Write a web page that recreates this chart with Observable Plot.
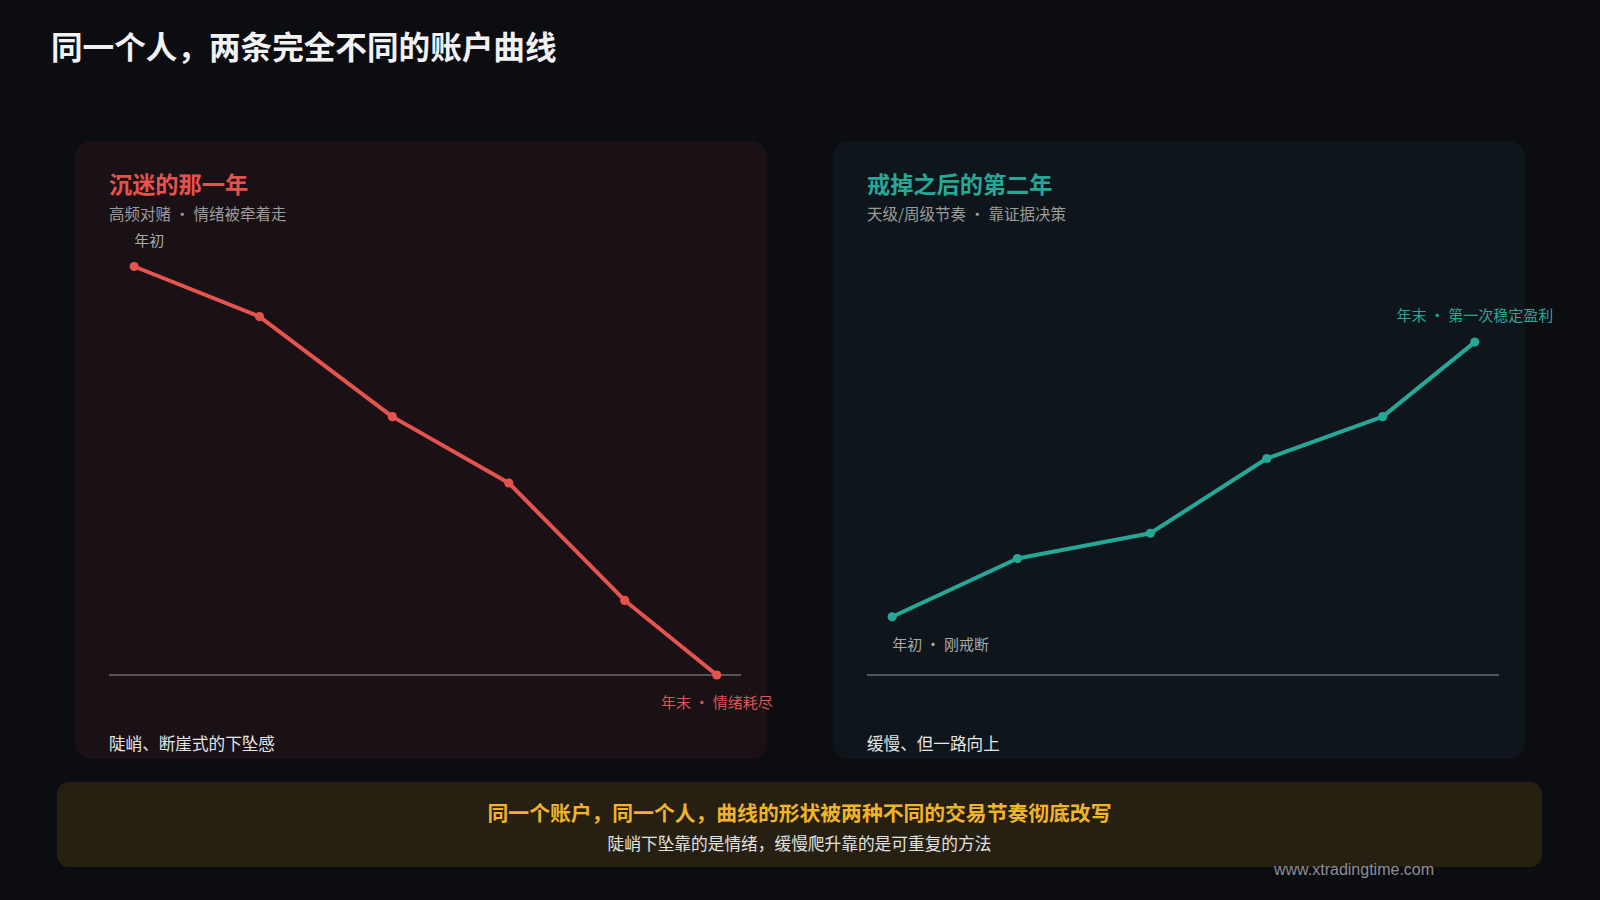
<!DOCTYPE html>
<html>
<head>
<meta charset="utf-8">
<script src="https://cdn.jsdelivr.net/npm/d3@7"></script>
<script src="https://cdn.jsdelivr.net/npm/@observablehq/plot@0.6"></script>
<style>
  html, body { margin: 0; padding: 0; background: #0c0d11; }
  body { width: 1600px; height: 900px; position: relative; overflow: hidden;
         font-family: "Noto Sans CJK SC", "Noto Sans", sans-serif; }
  .abs { position: absolute; white-space: nowrap; }
  .title { left: 51px; top: 27px; font-size: 31.6px; line-height: 36px; font-weight: 700; color: #f2f2f2; }
  .panel { position: absolute; top: 141px; width: 692px; height: 618px; border-radius: 16px; }
  .ptitle { left: 34px; top: 28px; font-size: 23.2px; line-height: 28px; font-weight: 700; }
  .psub { left: 34px; top: 62px; font-size: 15.5px; line-height: 20px; color: #9c9c9c; }
  .pcap { left: 34px; top: 592px; font-size: 16.6px; line-height: 20px; color: #e6e6e6; }
  .chart { position: absolute; left: 0; top: 89px; }
  .box { position: absolute; left: 57px; top: 782px; width: 1485px; height: 85px; border-radius: 12px; background: #262013; }
  .boxt1 { left: 0; width: 1485px; text-align: center; top: 18px; font-size: 20.8px; line-height: 24px; font-weight: 700; color: #f0b429; }
  .boxt2 { left: 0; width: 1485px; text-align: center; top: 51px; font-size: 16.7px; line-height: 20px; color: #e2e2e2; }
  .wm { left: 1274px; top: 860px; font-family: "Liberation Sans", Arial, sans-serif; font-size: 16px; line-height: 20px; color: #8c8f96; }
</style>
</head>
<body>
<script>
// ---- data ----
const yearProgress = [0, 0.215, 0.443, 0.643, 0.842, 1];          // position within the year
const year1Equity = [100, 87.75, 63.25, 47, 18.25, 0];             // 沉迷的那一年
const year2Equity = [14.25, 28.5, 34.7, 53, 63.25, 81.5];          // 戒掉之后的第二年

const panelTitles = ["沉迷的那一年", "戒掉之后的第二年"];
const panelSubtitles = ["高频对赌 · 情绪被牵着走", "天级/周级节奏 · 靠证据决策"];
const panelCaptions = ["陡峭、断崖式的下坠感", "缓慢、但一路向上"];
const startLabels = ["年初", "年初 · 刚戒断"];
const endLabels = ["年末 · 情绪耗尽", "年末 · 第一次稳定盈利"];

const FONT = '"Noto Sans CJK SC", "Noto Sans", sans-serif';
const RED = "#e5534f", TEAL = "#26a898";

const root = document.body;
function div(cls, text, parent, style) {
  const d = document.createElement("div");
  d.className = cls;
  if (text != null) d.textContent = text;
  if (style) Object.assign(d.style, style);
  (parent || root).appendChild(d);
  return d;
}

div("abs title", "同一个人，两条完全不同的账户曲线");

function makeChart(values, color, startLabel, endLabel, startOpts, endOpts) {
  const data = yearProgress.map((x, i) => ({x, y: values[i]}));
  const first = [data[0]], last = [data[data.length - 1]];
  return Plot.plot({
    width: 692,
    height: 500,
    marginLeft: 34,
    marginRight: 26,
    marginTop: 36,
    marginBottom: 55.5,
    x: {domain: [0, 1], axis: null, insetLeft: 24.7, insetRight: 24.7},
    y: {domain: [0, 100], axis: null},
    style: {background: "transparent", overflow: "visible", fontFamily: FONT},
    marks: [
      Plot.ruleY([0], {stroke: "#8a8a8a", strokeOpacity: 0.75, strokeWidth: 1.6}),
      Plot.line(data, {x: "x", y: "y", stroke: color, strokeWidth: 4, strokeLinejoin: "round", strokeLinecap: "round"}),
      Plot.dot(data, {x: "x", y: "y", r: 4.6, fill: color, stroke: "none"}),
      Plot.text(first, {x: "x", y: "y", text: () => startLabel, fontSize: 15, ...startOpts}),
      Plot.text(last, {x: "x", y: "y", text: () => endLabel, fontSize: 15, ...endOpts})
    ]
  });
}

const configs = [
  {left: 75, bg: "#1a1116", color: RED, values: year1Equity,
   start: {textAnchor: "start", dy: -25, fill: "#a9a9a9"},
   end: {textAnchor: "middle", dy: 28, fill: "#dc5450"}},
  {left: 833, bg: "#0e161b", color: TEAL, values: year2Equity,
   start: {textAnchor: "start", dy: 28, fill: "#a9a9a9"},
   end: {textAnchor: "middle", dy: -26, fill: "#2aa897"}}
];

configs.forEach((c, i) => {
  const p = div("panel", null, root, {left: c.left + "px", background: c.bg});
  div("abs ptitle", panelTitles[i], p, {color: c.color});
  div("abs psub", panelSubtitles[i], p);
  const holder = div("chart", null, p);
  holder.appendChild(makeChart(c.values, c.color, startLabels[i], endLabels[i], c.start, c.end));
  div("abs pcap", panelCaptions[i], p);
});

const box = div("box");
div("abs boxt1", "同一个账户，同一个人，曲线的形状被两种不同的交易节奏彻底改写", box);
div("abs boxt2", "陡峭下坠靠的是情绪，缓慢爬升靠的是可重复的方法", box);
div("abs wm", "www.xtradingtime.com");
</script>
</body>
</html>
